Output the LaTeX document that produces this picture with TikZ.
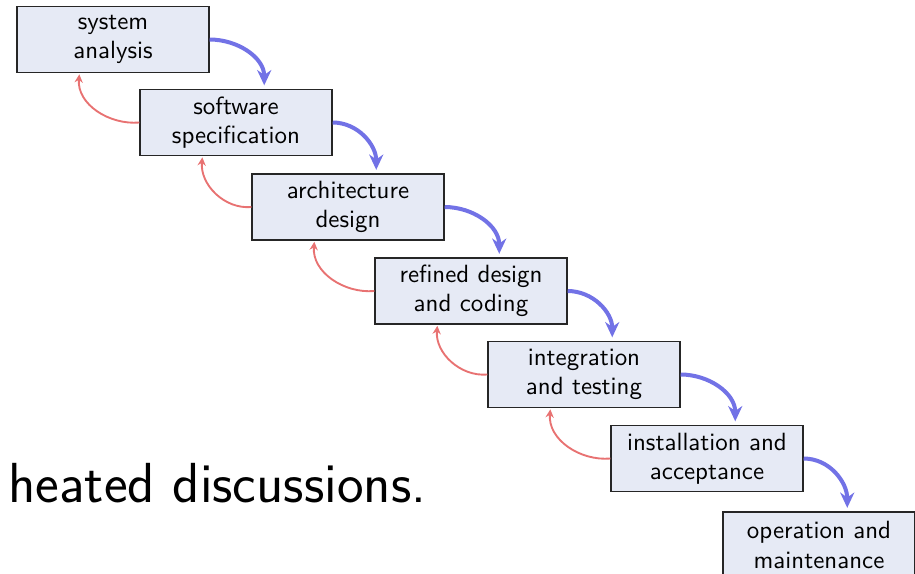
\documentclass[tikz,border=0pt]{standalone}
\usepackage{tikz}
\usetikzlibrary{arrows.meta}
\definecolor{stagefill}{HTML}{E6EAF5}
\definecolor{flowblue}{HTML}{7272E6}
\definecolor{backred}{HTML}{E87272}
\tikzset{
  every node/.append style={font=\sffamily},
  stage/.style={draw=black!85,line width=0.6pt,fill=stagefill,
    minimum width=81.6pt,minimum height=28pt,text width=78pt,align=center,
    inner sep=1pt,font=\sffamily\fontsize{10.6}{12.4}\selectfont},
  flow/.style={flowblue,line width=1.7pt,-{Stealth[length=6.5pt,width=6pt]}},
  back/.style={backred,line width=0.8pt,-{Stealth[length=3.5pt,width=3.5pt]}}
}

\begin{document}
\begin{tikzpicture}[x=0.425pt,y=-0.425pt]
  \useasboundingbox (0,0) rectangle (915,573);
  \node[stage] (sa) at (113,39.5) {system\\analysis};
  \node[stage] (ss) at (236,122.5) {software\\specification};
  \node[stage] (ad) at (348,207) {architecture\\design};
  \node[stage] (rd) at (471,291) {refined design\\and coding};
  \node[stage] (it) at (584,374.5) {integration\\and testing};
  \node[stage] (ia) at (707,458.5) {installation and\\acceptance};
  \node[stage] (om) at (819,545) {operation and\\maintenance};
  % forward
  \foreach \a/\b in {sa/ss,ss/ad,ad/rd,rd/it,it/ia,ia/om}
    \draw[flow] (\a.east) to[out=0,in=90] ([yshift=1.5pt]\b.50);
  % feedback
  \foreach \a/\b in {ss/sa,ad/ss,rd/ad,it/rd,ia/it}
    \draw[back] (\a.west) to[out=185,in=-95] ([yshift=-0.5pt]\b.225);
  \node[anchor=base west,inner sep=0pt,font=\sffamily\fontsize{24}{28}\selectfont]
    (talk) at (8,502) {heated discussions.};
\end{tikzpicture}
\end{document}
